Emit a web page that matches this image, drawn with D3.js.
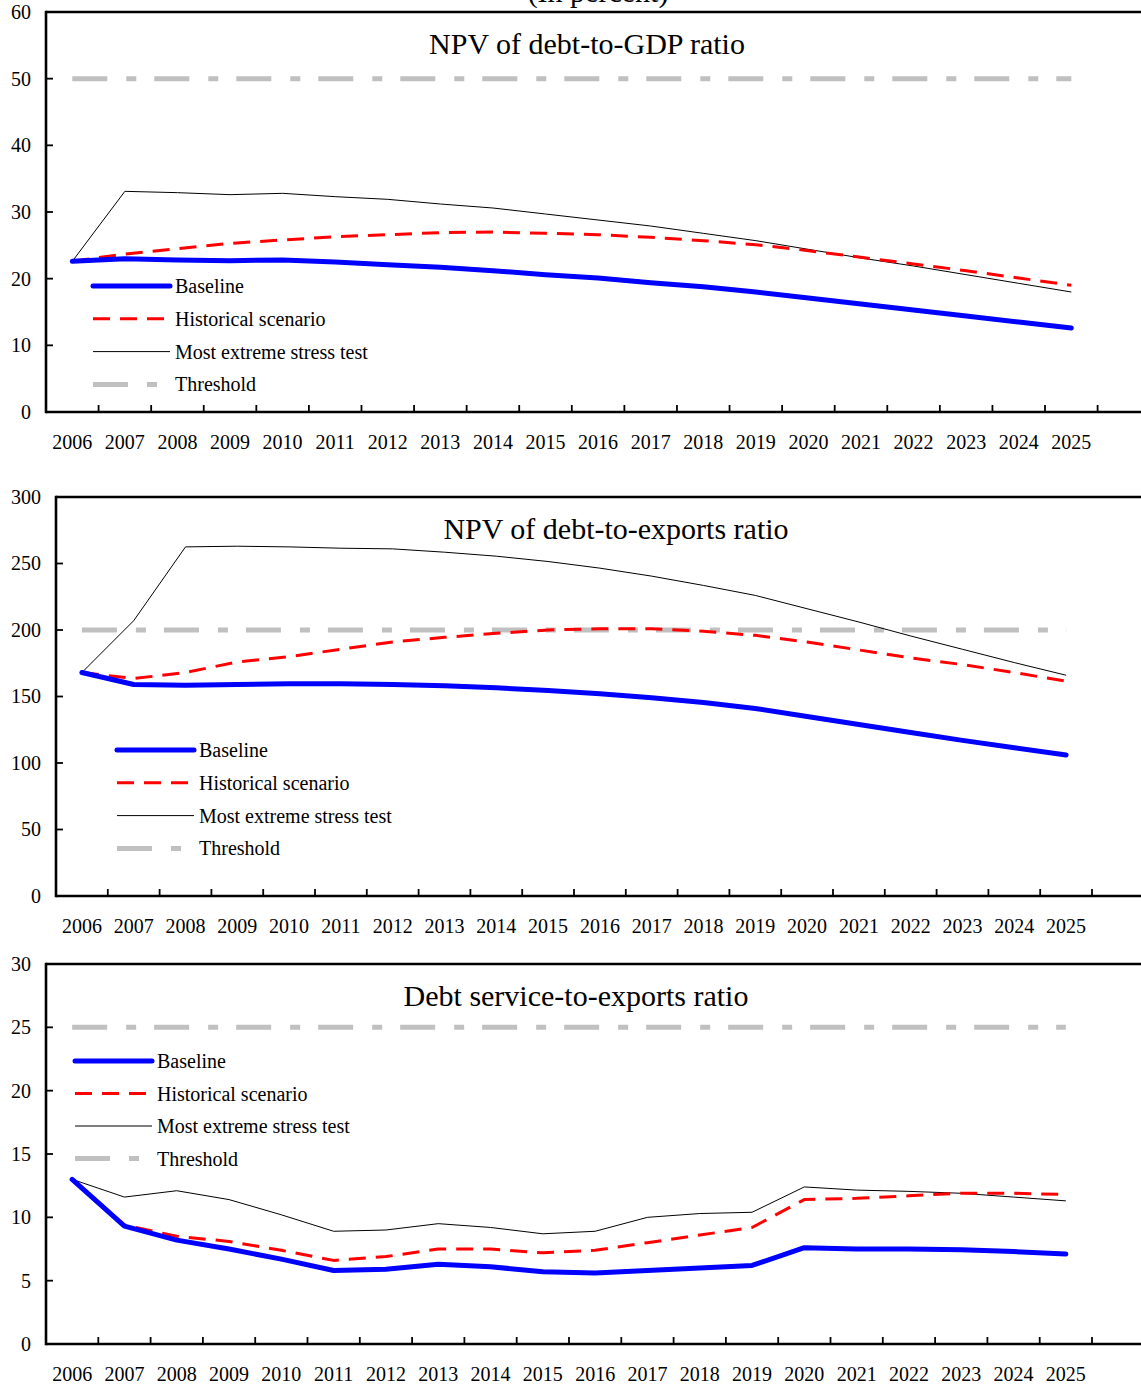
<!DOCTYPE html>
<html>
<head>
<meta charset="utf-8">
<script src="https://cdn.jsdelivr.net/npm/d3@7"></script>
<style>
  html, body { margin: 0; padding: 0; background: #fff; }
  svg { display: block; }
  svg text { font-family: "Liberation Serif", "Times New Roman", serif !important; fill: #000; }
</style>
</head>
<body>
<svg id="chart" width="1141" height="1388"></svg>
<script>
// ---------- data ----------
const years = ["2006","2007","2008","2009","2010","2011","2012","2013","2014","2015",
               "2016","2017","2018","2019","2020","2021","2022","2023","2024","2025"];

const seriesNames = ["Baseline", "Historical scenario", "Most extreme stress test", "Threshold"];
const titles = ["NPV of debt-to-GDP ratio", "NPV of debt-to-exports ratio", "Debt service-to-exports ratio"];
const topNote = "(In percent)";

// Panel 1: NPV of debt-to-GDP ratio
const gdpBaseline   = [22.6,23.0,22.8,22.7,22.8,22.5,22.1,21.7,21.2,20.6,20.1,19.4,18.8,18.0,17.1,16.2,15.3,14.4,13.5,12.6];
const gdpHistorical = [22.6,23.7,24.5,25.3,25.8,26.3,26.6,26.9,27.0,26.8,26.6,26.2,25.7,25.1,24.2,23.2,22.2,21.2,20.1,19.0];
const gdpStress     = [22.6,33.1,32.9,32.6,32.8,32.3,31.9,31.2,30.6,29.7,28.8,27.9,26.8,25.7,24.4,23.1,21.9,20.6,19.3,18.0];
const gdpThreshold  = 50;
const gdpTicks      = [0,10,20,30,40,50,60];

// Panel 2: NPV of debt-to-exports ratio
const expBaseline   = [168,159,158.5,159,159.5,159.5,159,158,156.5,154.5,152,149,145.5,141,135,129,123,117,111.5,106];
const expHistorical = [168,163.5,168,176,180,185.5,191,194.5,197.5,200,201,201,199,196,191,185,179,174,168,161.5];
const expStress     = [168,207,262.5,263,262.5,261.5,261,258.5,255.5,251.5,246.5,240.5,233.5,226,216,206,195.5,185.5,175.5,166];
const expThreshold  = 200;
const expTicks      = [0,50,100,150,200,250,300];

// Panel 3: Debt service-to-exports ratio
const dsBaseline    = [13.0,9.3,8.2,7.5,6.7,5.8,5.9,6.3,6.1,5.7,5.6,5.8,6.0,6.2,7.6,7.5,7.5,7.45,7.3,7.1];
const dsHistorical  = [13.0,9.4,8.5,8.1,7.4,6.6,6.9,7.5,7.5,7.2,7.4,8.0,8.6,9.2,11.4,11.5,11.7,11.9,11.9,11.8];
const dsStress      = [13.0,11.6,12.1,11.4,10.2,8.9,9.0,9.5,9.2,8.7,8.9,10.0,10.3,10.4,12.4,12.15,12.05,11.9,11.6,11.3];
const dsThreshold   = 25;
const dsTicks       = [0,5,10,15,20,25,30];

// ---------- layout (positions/styles only) ----------
const layouts = [
  { left: 46, top: 12,  bottom: 412,  band: 52.58, titleX: 587, titleY: 54,   legX: 93,  legY: 286,  legStep: 32.8 },
  { left: 56, top: 497, bottom: 896,  band: 51.8,  titleX: 616, titleY: 539,  legX: 117, legY: 750,  legStep: 32.8 },
  { left: 46, top: 964, bottom: 1344, band: 52.3,  titleX: 576, titleY: 1006, legX: 75,  legY: 1061, legStep: 32.5 }
];

const panelData = [
  { base: gdpBaseline, hist: gdpHistorical, stress: gdpStress, thr: gdpThreshold, ticks: gdpTicks },
  { base: expBaseline, hist: expHistorical, stress: expStress, thr: expThreshold, ticks: expTicks },
  { base: dsBaseline,  hist: dsHistorical,  stress: dsStress,  thr: dsThreshold,  ticks: dsTicks }
];

const styles = {
  base:   { stroke: "#0000ff", width: 5,   dash: null,          cap: "round" },
  hist:   { stroke: "#ff0000", width: 3,   dash: "17,10",       cap: "butt" },
  stress: { stroke: "#000000", width: 1,   dash: null,          cap: "butt" },
  thr:    { stroke: "#c0c0c0", width: 5,   dash: "35,19,10,18", cap: "butt" }
};

const SERIF = '"Liberation Serif", "Times New Roman", serif';
const W = 1141;
const svg = d3.select("#chart");

svg.append("text")
  .attr("x", 598).attr("y", 2)
  .attr("text-anchor", "middle")
  .attr("font-size", 30)
  .style("font-family", SERIF)
  .text(topNote);

layouts.forEach((L, i) => {
  const D = panelData[i];
  const g = svg.append("g");

  const x = d3.scaleBand().domain(years).range([L.left, L.left + years.length * L.band]).paddingInner(0).paddingOuter(0);
  const cx = d => x(d) + x.bandwidth() / 2;
  const y = d3.scaleLinear().domain([d3.min(D.ticks), d3.max(D.ticks)]).range([L.bottom, L.top]);

  // frame: top, left, bottom
  const frame = g.append("g").attr("stroke", "#000").attr("stroke-width", 2.6).attr("fill", "none");
  frame.append("line").attr("x1", L.left).attr("x2", W + 10).attr("y1", L.top).attr("y2", L.top);
  frame.append("line").attr("x1", L.left).attr("x2", L.left).attr("y1", L.top - 1.3).attr("y2", L.bottom + 1.3);
  frame.append("line").attr("x1", L.left).attr("x2", W + 10).attr("y1", L.bottom).attr("y2", L.bottom);

  // x tick marks at band boundaries (inside)
  const bounds = years.map(d => x(d)).slice(1).concat([x(years[years.length - 1]) + x.bandwidth()]);
  g.append("g").selectAll("line").data(bounds).join("line")
    .attr("x1", d => d).attr("x2", d => d)
    .attr("y1", L.bottom).attr("y2", L.bottom - 7)
    .attr("stroke", "#000").attr("stroke-width", 1.8);

  // x labels via axis
  const xAxis = d3.axisBottom(x).tickSize(0).tickPadding(23);
  const xg = g.append("g").attr("transform", `translate(0,${L.bottom})`).call(xAxis)
    .attr("font-family", null).attr("font-size", null);
  xg.select(".domain").remove();
  xg.selectAll("text").style("font-size", "20px").style("font-family", SERIF).attr("fill", "#000");

  // y labels via axis
  const yAxis = d3.axisLeft(y).tickValues(D.ticks).tickSize(0).tickPadding(15);
  const yg = g.append("g").attr("transform", `translate(${L.left},0)`).call(yAxis)
    .attr("font-family", null).attr("font-size", null);
  yg.select(".domain").remove();
  yg.selectAll("text").style("font-size", "20px").style("font-family", SERIF).attr("fill", "#000");

  // y tick marks inside
  g.append("g").selectAll("line").data(D.ticks.filter(t => t !== d3.min(D.ticks) && t !== d3.max(D.ticks))).join("line")
    .attr("x1", L.left).attr("x2", L.left + 7)
    .attr("y1", d => y(d)).attr("y2", d => y(d))
    .attr("stroke", "#000").attr("stroke-width", 1.8);

  // title
  g.append("text").attr("x", L.titleX).attr("y", L.titleY)
    .attr("text-anchor", "middle").style("font-size", "30px").style("font-family", SERIF).text(titles[i]);

  // lines
  const thrVals = years.map(() => D.thr);
  const line = d3.line().x((d, j) => cx(years[j])).y(d => y(d));
  const order = [["thr", thrVals], ["stress", D.stress], ["hist", D.hist], ["base", D.base]];
  order.forEach(([k, vals]) => {
    const s = styles[k];
    g.append("path").datum(vals)
      .attr("d", line)
      .attr("fill", "none")
      .attr("stroke", s.stroke)
      .attr("stroke-width", s.width)
      .attr("stroke-dasharray", s.dash)
      .attr("stroke-linecap", s.cap)
      .attr("stroke-linejoin", "round");
  });

  // legend
  const keys = ["base", "hist", "stress", "thr"];
  const lg = g.append("g");
  keys.forEach((k, j) => {
    const s = styles[k];
    const yy = L.legY + j * L.legStep;
    lg.append("line")
      .attr("x1", L.legX).attr("x2", L.legX + 77)
      .attr("y1", yy).attr("y2", yy)
      .attr("stroke", s.stroke).attr("stroke-width", s.width)
      .attr("stroke-dasharray", s.dash).attr("stroke-linecap", s.cap);
    lg.append("text")
      .attr("x", L.legX + 82).attr("y", yy).attr("dy", "0.35em")
      .style("font-size", "20px").style("font-family", SERIF).text(seriesNames[j]);
  });
});
</script>
</body>
</html>
